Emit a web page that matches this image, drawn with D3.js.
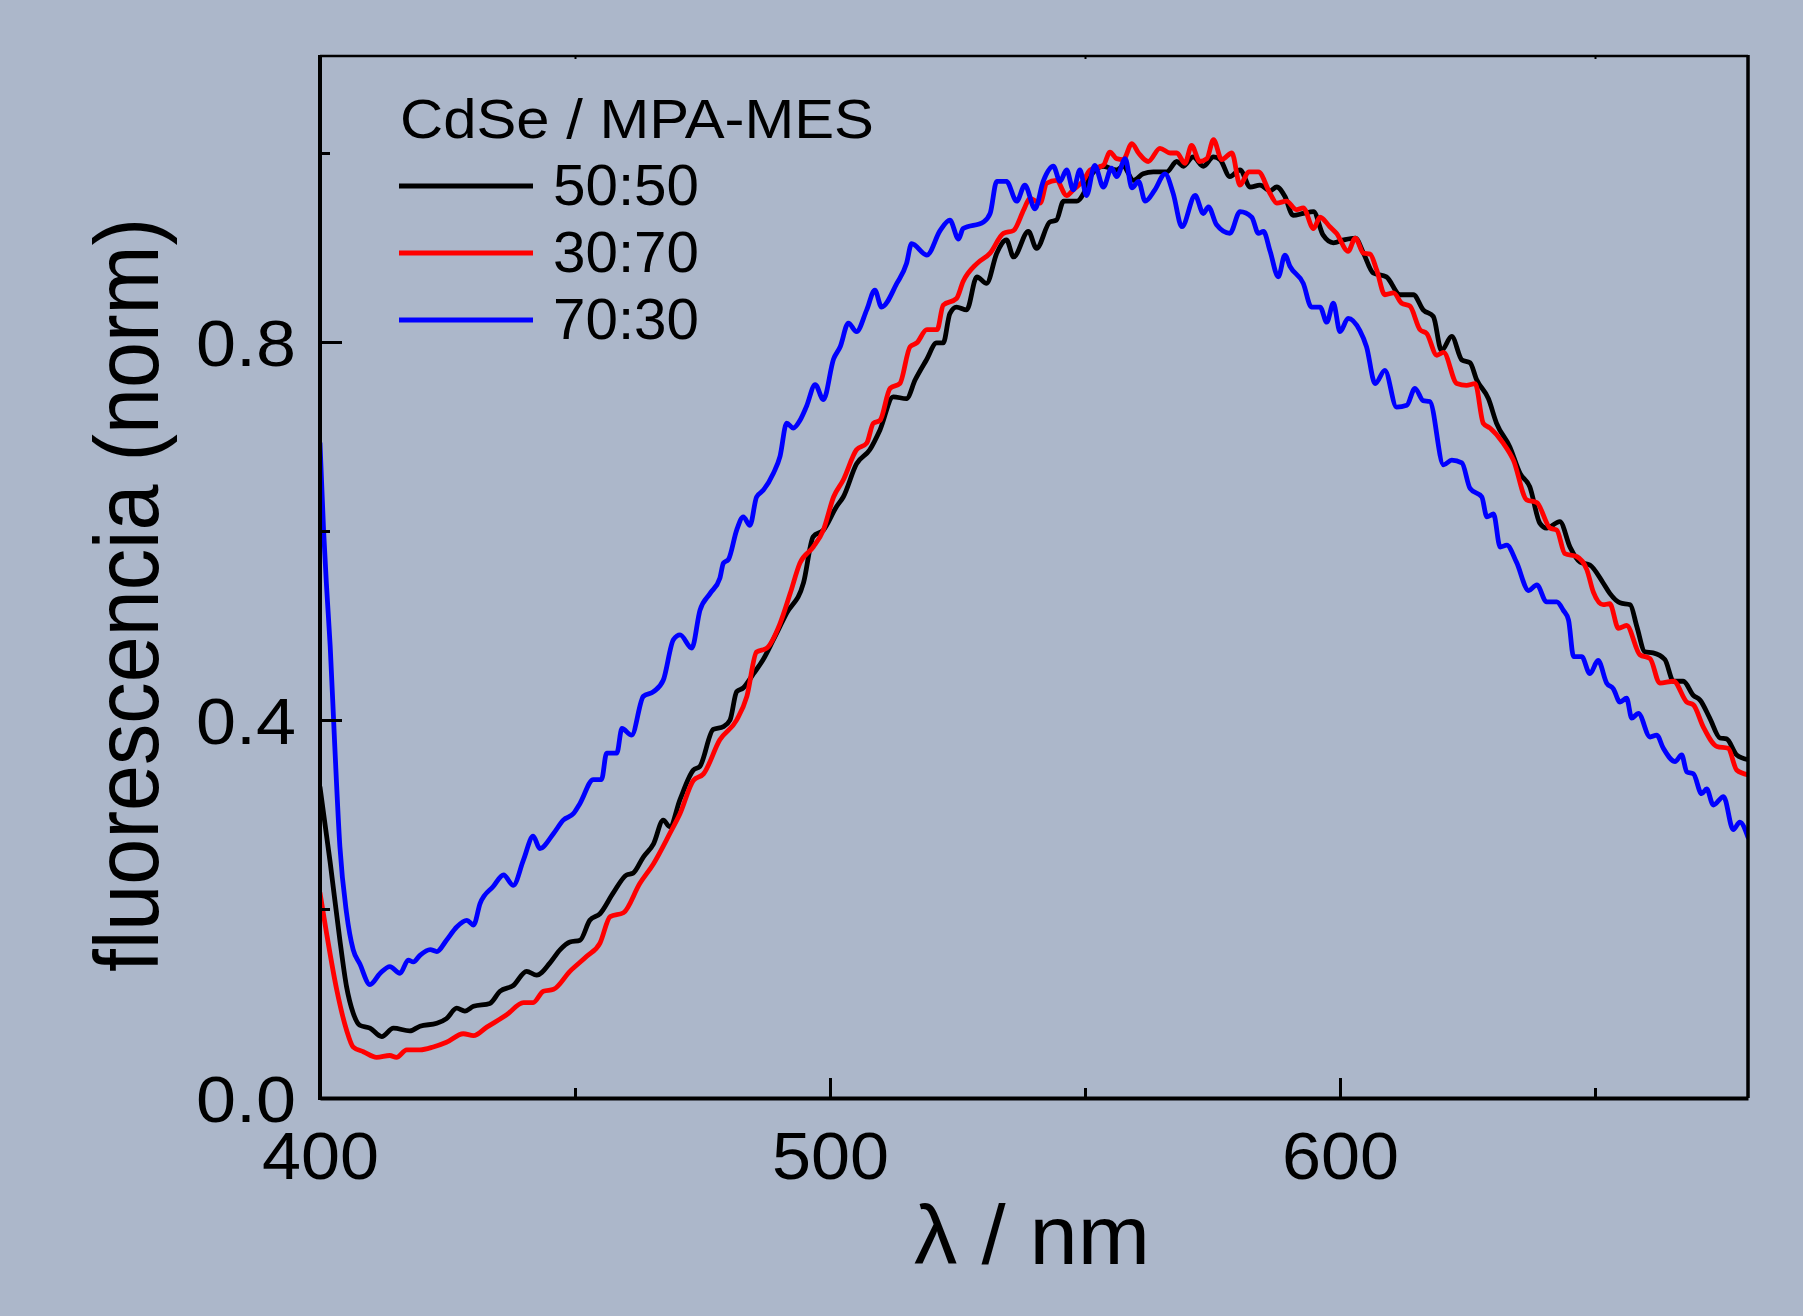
<!DOCTYPE html>
<html>
<head>
<meta charset="utf-8">
<script src="https://cdnjs.cloudflare.com/ajax/libs/d3/7.8.5/d3.min.js"></script>
<style>
  html, body { margin: 0; padding: 0; background: #acb7ca; }
  text { font-family: "Liberation Sans", Arial, sans-serif; fill: #000; }
</style>
</head>
<body>
<div id="chart"></div>
<script>
// axis ticks
const xMajor = [400, 500, 600];
const xMinor = [450, 550, 650];
const yMajor = [0.0, 0.4, 0.8];
const yMinor = [0.2, 0.6, 1.0];

// series names
const seriesNames = ["50:50", "30:70", "70:30"];
const seriesColors = ["#000000", "#ff0000", "#0000ff"];

// [wavelength nm, normalized fluorescence]
const s5050 = [[400,0.329],[402,0.249],[403.9,0.167],[405.2,0.118],[406.5,0.090],[407.8,0.077],[409.8,0.074],[412.1,0.065],[414.4,0.074],[417.6,0.071],[419.6,0.076],[422.9,0.079],[424.8,0.084],[426.8,0.095],[428.4,0.092],[430.1,0.097],[433.3,0.100],[435.3,0.113],[437.9,0.119],[440.5,0.134],[442.5,0.130],[445.1,0.143],[447.1,0.157],[449,0.165],[451,0.167],[452.9,0.188],[454.9,0.195],[457.5,0.217],[460.1,0.236],[461.4,0.238],[463.4,0.255],[465.4,0.269],[467.3,0.294],[468.6,0.287],[470.6,0.316],[473.2,0.347],[474.5,0.351],[477.1,0.390],[479.1,0.393],[480.4,0.400],[481.7,0.430],[483,0.434],[485,0.449],[486.9,0.464],[488.9,0.485],[491.5,0.513],[494.8,0.545],[496.7,0.594],[498.7,0.601],[501.3,0.626],[502.6,0.636],[505.2,0.671],[507.8,0.686],[509.8,0.707],[512.4,0.742],[515,0.740],[516.7,0.760],[518.9,0.781],[520.9,0.799],[522.2,0.799],[523.5,0.830],[524.8,0.837],[526.8,0.834],[528.8,0.869],[530.7,0.862],[532.7,0.894],[534.6,0.908],[536,0.890],[538.9,0.917],[540.5,0.899],[543.1,0.927],[544.4,0.929],[545.8,0.949],[548.4,0.949],[549.7,0.957],[551,0.975],[553.6,0.986],[556.2,0.982],[557.5,0.986],[559.5,0.971],[561.4,0.978],[563.4,0.980],[566,0.980],[568,0.991],[569.3,0.986],[571.2,0.996],[573.2,0.986],[575.2,0.996],[576.5,0.993],[578.4,0.975],[580.4,0.982],[582.4,0.964],[584.3,0.966],[586.3,0.960],[587.6,0.964],[589.2,0.954],[590.8,0.934],[592.8,0.936],[594.8,0.938],[596.7,0.913],[598.7,0.905],[600.7,0.908],[603,0.910],[604.6,0.894],[606.5,0.873],[609.1,0.869],[611.8,0.850],[614.4,0.850],[616.3,0.834],[618.3,0.827],[619.9,0.791],[621.9,0.806],[623.9,0.781],[625.5,0.778],[626.8,0.760],[629.1,0.740],[630.7,0.714],[633.3,0.689],[635.3,0.661],[637.2,0.647],[639.2,0.608],[640.5,0.603],[643.1,0.610],[645.1,0.583],[647.1,0.567],[649,0.564],[651.6,0.545],[652.9,0.534],[654.9,0.524],[656.9,0.522],[658.2,0.499],[659.8,0.472],[661.4,0.471],[663.7,0.464],[665.4,0.441],[667.3,0.441],[669.3,0.426],[670.6,0.421],[672.5,0.402],[674.5,0.381],[675.8,0.380],[677.8,0.363],[680,0.358]];

const s3070 = [[400,0.217],[401.3,0.174],[403.3,0.114],[405.2,0.072],[406.5,0.054],[408.5,0.049],[411.1,0.043],[413.7,0.045],[415,0.043],[417,0.051],[419.6,0.051],[422.2,0.054],[424.8,0.059],[428.1,0.068],[430.1,0.066],[432.7,0.075],[436.6,0.088],[439.9,0.101],[441.8,0.101],[443.8,0.113],[445.8,0.115],[449,0.134],[452.3,0.150],[454.9,0.164],[456.9,0.192],[459.5,0.196],[462.7,0.227],[465.4,0.248],[468.6,0.280],[470.6,0.301],[473.2,0.336],[475.2,0.343],[478.4,0.379],[481.7,0.400],[483.7,0.425],[485.6,0.472],[487.6,0.476],[490.2,0.502],[492.2,0.534],[494.1,0.566],[496.7,0.583],[498.7,0.601],[500.7,0.636],[502.6,0.654],[505.2,0.686],[507.2,0.693],[508.5,0.714],[509.8,0.717],[511.8,0.751],[513.7,0.756],[515.7,0.795],[517,0.799],[519,0.813],[521,0.813],[522.2,0.839],[524.8,0.846],[526.1,0.864],[528.8,0.883],[531.4,0.894],[534,0.915],[536,0.918],[538,0.940],[539.2,0.952],[541.2,0.947],[542.5,0.968],[544.4,0.971],[546.4,0.955],[547.7,0.961],[549.7,0.971],[551,0.982],[553.6,0.987],[554.9,1.001],[556.2,0.994],[557.5,0.993],[559.2,1.010],[560.5,1.000],[562.4,0.991],[564.7,1.005],[566.7,1.000],[568,1.000],[569.6,0.989],[570.9,1.008],[572.5,0.991],[573.9,0.994],[575.2,1.014],[576.8,0.993],[578.8,1.000],[580.4,0.966],[582.1,0.980],[584,0.980],[586.3,0.957],[587.6,0.947],[589.5,0.949],[591.5,0.940],[592.8,0.942],[594.8,0.920],[596.1,0.932],[598,0.922],[599.3,0.915],[601.6,0.896],[603,0.910],[604.6,0.894],[605.9,0.893],[607.2,0.876],[608.8,0.850],[610.5,0.852],[612.1,0.841],[613.7,0.838],[615.7,0.813],[617,0.809],[619,0.786],[620.3,0.789],[622.9,0.756],[624.8,0.754],[626.5,0.756],[628.1,0.714],[629.4,0.709],[632,0.693],[634,0.675],[636.6,0.633],[638.6,0.630],[641.2,0.603],[642.5,0.601],[644.1,0.576],[646.4,0.573],[648.4,0.559],[649.7,0.535],[651.6,0.522],[652.9,0.523],[654.6,0.497],[656.2,0.500],[658.8,0.469],[660.8,0.465],[662.7,0.439],[665.4,0.441],[668,0.419],[669.3,0.416],[671.2,0.393],[673.9,0.372],[676.1,0.370],[677.8,0.347],[680,0.342]];

const s7030 = [[400,0.693],[400.7,0.601],[401.3,0.540],[402,0.478],[402.9,0.372],[403.9,0.266],[405.2,0.196],[406.5,0.157],[407.8,0.142],[409.8,0.120],[411.8,0.132],[413.7,0.139],[415.7,0.132],[417.3,0.146],[418.3,0.144],[419.6,0.151],[421.6,0.157],[422.9,0.155],[424.8,0.167],[426.8,0.181],[428.8,0.188],[430.1,0.183],[431.4,0.206],[434,0.224],[436,0.236],[437.9,0.225],[439.9,0.252],[441.8,0.277],[443.1,0.264],[445.8,0.280],[447.7,0.294],[449.7,0.301],[451,0.312],[453.6,0.337],[455.2,0.337],[456.2,0.365],[458.2,0.365],[459.2,0.391],[461.1,0.384],[463.4,0.425],[465.4,0.430],[467.3,0.442],[469.3,0.485],[470.6,0.490],[472.9,0.476],[474.5,0.516],[476.5,0.534],[478.4,0.550],[479.1,0.566],[480.1,0.570],[481.7,0.601],[483,0.615],[484.3,0.606],[485.6,0.636],[486.9,0.643],[488.9,0.661],[490.2,0.679],[491.5,0.714],[492.8,0.709],[494.1,0.717],[495.4,0.732],[497.1,0.755],[498.7,0.739],[500.7,0.782],[502,0.795],[503.6,0.820],[505.2,0.811],[507.2,0.834],[508.8,0.855],[510.1,0.837],[513.1,0.862],[515,0.883],[516,0.904],[519,0.892],[521.6,0.918],[523.5,0.929],[525.2,0.909],[526.1,0.920],[530.1,0.927],[531.4,0.936],[532.7,0.970],[534.6,0.970],[536.6,0.949],[538.2,0.966],[540.2,0.941],[541.8,0.970],[543.8,0.986],[545.1,0.970],[546.4,0.982],[547.7,0.961],[549,0.982],[550.3,0.955],[551.9,0.987],[553.6,0.964],[555.2,0.984],[556.2,0.975],[557.9,0.994],[559.2,0.963],[560.5,0.970],[561.8,0.949],[563.7,0.961],[565.7,0.978],[567.3,0.957],[569,0.922],[571.6,0.955],[573.2,0.936],[574.2,0.943],[575.8,0.924],[578.4,0.915],[580.4,0.938],[582.7,0.932],[584,0.915],[585,0.917],[586.3,0.896],[587.9,0.869],[589.2,0.892],[590.2,0.880],[592.8,0.862],[594.4,0.837],[596.1,0.837],[597.4,0.821],[598.7,0.841],[600,0.811],[601.6,0.825],[603.9,0.812],[605.2,0.795],[606.9,0.756],[608.8,0.770],[611.1,0.731],[613.1,0.733],[614.7,0.751],[616.3,0.738],[617.6,0.737],[620.3,0.670],[621.9,0.675],[623.9,0.672],[625.5,0.645],[627.8,0.636],[628.8,0.615],[630.1,0.618],[631.4,0.583],[632.7,0.585],[634.6,0.567],[637,0.537],[638.6,0.543],[640.5,0.525],[642.5,0.525],[643.8,0.516],[644.8,0.506],[645.8,0.467],[647.4,0.467],[649,0.449],[650.6,0.463],[652.3,0.439],[653.6,0.433],[654.9,0.419],[656.2,0.423],[657.2,0.402],[658.5,0.407],[660.8,0.382],[662.1,0.384],[663.4,0.370],[665.7,0.356],[667,0.363],[668,0.345],[669.3,0.343],[670.9,0.322],[671.9,0.327],[673.2,0.310],[675.2,0.319],[677.1,0.284],[678.4,0.292],[680,0.276]];

const allSeries = [s5050, s3070, s7030];

const W = 1803, H = 1316;
const plot = { left: 320, right: 1748, top: 56, bottom: 1098 };

const svg = d3.select("#chart")
    .append("svg")
    .attr("width", W)
    .attr("height", H);

svg.append("rect")
    .attr("width", W)
    .attr("height", H)
    .attr("fill", "#acb7ca");

const x = d3.scaleLinear()
    .domain([400, 680])
    .range([plot.left, plot.right]);

const y = d3.scaleLinear()
    .domain([0, 1.1])
    .range([plot.bottom, plot.bottom - 945 * 1.1]);

// clip the curves to the frame
svg.append("clipPath")
    .attr("id", "clip")
    .append("rect")
    .attr("x", plot.left)
    .attr("y", plot.top)
    .attr("width", plot.right - plot.left)
    .attr("height", plot.bottom - plot.top);

const line = d3.line()
    .curve(d3.curveMonotoneX)
    .x(d => x(d[0]))
    .y(d => y(d[1]));

svg.append("g")
    .attr("clip-path", "url(#clip)")
    .selectAll("path")
    .data(allSeries)
    .join("path")
    .attr("d", line)
    .attr("fill", "none")
    .attr("stroke", (d, i) => seriesColors[i])
    .attr("stroke-width", 4.8)
    .attr("stroke-linejoin", "round")
    .attr("stroke-linecap", "round");

// frame
svg.append("line").attr("x1", plot.left).attr("x2", plot.right)
    .attr("y1", plot.top).attr("y2", plot.top)
    .attr("stroke", "#000").attr("stroke-width", 2.5);
svg.append("line").attr("x1", plot.right).attr("x2", plot.right)
    .attr("y1", plot.top - 1).attr("y2", plot.bottom)
    .attr("stroke", "#000").attr("stroke-width", 3.5);

// bottom axis, ticks pointing in
const xAxis = svg.append("g")
    .attr("transform", `translate(0,${plot.bottom})`)
    .call(d3.axisBottom(x).tickValues(xMajor).tickSizeInner(-20).tickSizeOuter(0)
        .tickPadding(34).tickFormat(d3.format("d")));
xAxis.select(".domain").attr("stroke-width", 4);
xAxis.selectAll(".tick line").attr("stroke-width", 3);
xAxis.selectAll(".tick text")
    .attr("font-size", 66)
    .attr("font-family", "Liberation Sans, Arial, sans-serif")
    .attr("dy", "0.71em")
    .attr("textLength", 117)
    .attr("lengthAdjust", "spacingAndGlyphs");

svg.append("g")
    .attr("transform", `translate(0,${plot.bottom})`)
    .call(d3.axisBottom(x).tickValues(xMinor).tickSizeInner(-10).tickSizeOuter(0).tickFormat(""))
    .call(g => g.select(".domain").remove())
    .selectAll(".tick line").attr("stroke-width", 3);

// small notches on top frame
svg.append("g")
    .attr("transform", `translate(0,${plot.top})`)
    .call(d3.axisTop(x).tickValues(xMinor).tickSizeInner(-3).tickSizeOuter(0).tickFormat(""))
    .call(g => g.select(".domain").remove())
    .selectAll(".tick line").attr("stroke-width", 2);

// left axis
const yAxis = svg.append("g")
    .attr("transform", `translate(${plot.left},0)`)
    .call(d3.axisLeft(y).tickValues(yMajor).tickSizeInner(-22).tickSizeOuter(0)
        .tickPadding(24).tickFormat(d3.format(".1f")));
yAxis.select(".domain").attr("stroke-width", 4)
    .attr("d", `M0,${plot.top - 1}V${plot.bottom + 2}`);
yAxis.selectAll(".tick line").attr("stroke-width", 3);
yAxis.selectAll(".tick text")
    .attr("font-size", 64)
    .attr("font-family", "Liberation Sans, Arial, sans-serif")
    .attr("dy", "0.36em")
    .attr("textLength", 100)
    .attr("lengthAdjust", "spacingAndGlyphs");

svg.append("g")
    .attr("transform", `translate(${plot.left},0)`)
    .call(d3.axisLeft(y).tickValues(yMinor).tickSizeInner(-10).tickSizeOuter(0).tickFormat(""))
    .call(g => g.select(".domain").remove())
    .selectAll(".tick line").attr("stroke-width", 3);

// axis titles
svg.append("text")
    .attr("x", (plot.left + plot.right) / 2 - 2)
    .attr("y", 1264)
    .attr("text-anchor", "middle")
    .attr("font-size", 84)
    .attr("textLength", 236)
    .attr("lengthAdjust", "spacingAndGlyphs")
    .text("λ / nm");

svg.append("text")
    .attr("transform", `translate(158,595) rotate(-90)`)
    .attr("text-anchor", "middle")
    .attr("font-size", 90)
    .attr("textLength", 754)
    .attr("lengthAdjust", "spacingAndGlyphs")
    .text("fluorescencia (norm)");

// legend
const legend = svg.append("g");
legend.append("text")
    .attr("x", 400)
    .attr("y", 138)
    .attr("font-size", 56)
    .attr("textLength", 474)
    .attr("lengthAdjust", "spacingAndGlyphs")
    .text("CdSe / MPA-MES");

const items = legend.selectAll(".item")
    .data(seriesNames)
    .join("g")
    .attr("class", "item")
    .attr("transform", (d, i) => `translate(0,${i * 67})`);

items.append("line")
    .attr("x1", 399).attr("x2", 533)
    .attr("y1", 186).attr("y2", 186)
    .attr("stroke", (d, i) => seriesColors[i])
    .attr("stroke-width", 5);

items.append("text")
    .attr("x", 553)
    .attr("y", 205)
    .attr("font-size", 57)
    .attr("textLength", 146)
    .attr("lengthAdjust", "spacingAndGlyphs")
    .text(d => d);
</script>
</body>
</html>
